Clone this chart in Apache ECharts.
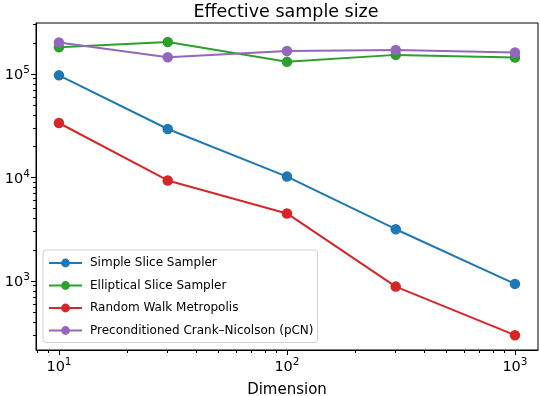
<!DOCTYPE html>
<html><head><meta charset="utf-8">
<script src="https://cdn.jsdelivr.net/npm/echarts@6/dist/echarts.min.js"></script>
<style>html,body{margin:0;padding:0;background:#fff}#c{width:540px;height:396px}</style>
</head><body><div id="c"></div>
<script>
const dims = [10, 30, 100, 300, 1000];
const simpleSlice = [97000, 29400, 10200, 3160, 936];
const ellipticalSlice = [181000, 204000, 131000, 153000, 144000];
const randomWalk = [33600, 9350, 4490, 881, 299];
const pcn = [202000, 145000, 167000, 171000, 161000];
const seriesNames = ['Simple Slice Sampler','Elliptical Slice Sampler','Random Walk Metropolis','Preconditioned Crank\u2013Nicolson (pCN)'];
const seriesColors = ['#1f77b4','#2ca02c','#d62728','#9467bd'];
const xMajor = [10, 100, 1000];
const yMajor = [1000, 10000, 100000];
const xMinor = [8,9,20,30,40,50,60,70,80,90,200,300,400,500,600,700,800,900];
const yMinor = [300,400,500,600,700,800,900,2000,3000,4000,5000,6000,7000,8000,9000,20000,30000,40000,50000,60000,70000,80000,90000,200000,300000];
const xRange = [7.93, 1262];
const yRange = [215, 311000];

const font = 'DejaVu Sans';
const supFmt = v => '{b|10}{s|' + Math.round(Math.log10(v)) + '}';
const labRich = {
  b: { fontSize: 14.5, fontFamily: font, color: '#000', verticalAlign: 'bottom' },
  s: { fontSize: 10.5, verticalAlign: 'bottom', padding: [0,0,7,0], fontFamily: font, color:'#000' }
};

const chart = echarts.init(document.getElementById('c'));
const data = [simpleSlice, ellipticalSlice, randomWalk, pcn];
chart.setOption({
  animation: false,
  title: { text: 'Effective sample size', left: 281, textAlign: 'center', top: -2,
    textStyle: { fontFamily: font, fontSize: 17.5, fontWeight: 'normal', color: '#000' } },
  grid: { left: 36, right: 2, top: 23, bottom: 46, show: true, borderColor: '#000', borderWidth: 1,
    containLabel: false, outerBoundsMode: 'none' },
  legend: {
    orient: 'vertical', left: 43, top: 250, itemWidth: 33, itemHeight: 11, itemGap: 10.5,
    padding: [7, 4, 6, 5], borderColor: '#d0d0d0', borderWidth: 1, borderRadius: 3,
    backgroundColor: 'rgba(255,255,255,0.8)',
    textStyle: { fontFamily: font, fontSize: 12, color: '#000', padding: [0,0,0,3] },
    data: seriesNames
  },
  xAxis: [{
    type: 'log', logBase: 10, min: xRange[0], max: xRange[1],
    name: 'Dimension', nameLocation: 'middle', nameGap: 33,
    nameTextStyle: { fontFamily: font, fontSize: 15, color: '#000' },
    axisLine: { lineStyle: { color: '#000' } },
    axisTick: { customValues: xMajor, length: 5, lineStyle: { color: '#000' } },
    axisLabel: { customValues: xMajor, formatter: supFmt, rich: labRich, fontFamily: font, fontSize: 14.5, color: '#000', margin: 7 },
    splitLine: { show: false }
  }, {
    type: 'log', logBase: 10, min: xRange[0], max: xRange[1], gridIndex: 0, position: 'bottom',
    axisLine: { show: false },
    axisTick: { customValues: xMinor, length: 3, lineStyle: { color: '#000' } },
    axisLabel: { show: false }, splitLine: { show: false }
  }],
  yAxis: [{
    type: 'log', logBase: 10, min: yRange[0], max: yRange[1],
    axisLine: { lineStyle: { color: '#000' } },
    axisTick: { customValues: yMajor, length: 5, lineStyle: { color: '#000' } },
    axisLabel: { customValues: yMajor, formatter: supFmt, rich: labRich, fontFamily: font, fontSize: 14.5, color: '#000', margin: 6 },
    splitLine: { show: false }
  }, {
    type: 'log', logBase: 10, min: yRange[0], max: yRange[1], gridIndex: 0, position: 'left',
    axisLine: { show: false },
    axisTick: { customValues: yMinor, length: 3, lineStyle: { color: '#000' } },
    axisLabel: { show: false }, splitLine: { show: false }
  }],
  series: seriesNames.map((n, i) => ({
    name: n, type: 'line', xAxisIndex: 0, yAxisIndex: 0,
    data: dims.map((d, j) => [d, data[i][j]]),
    symbol: 'circle', symbolSize: 10.5, showSymbol: true,
    lineStyle: { width: 2, color: seriesColors[i] },
    itemStyle: { color: seriesColors[i] },
    emphasis: { disabled: true }
  }))
});
</script></body></html>
